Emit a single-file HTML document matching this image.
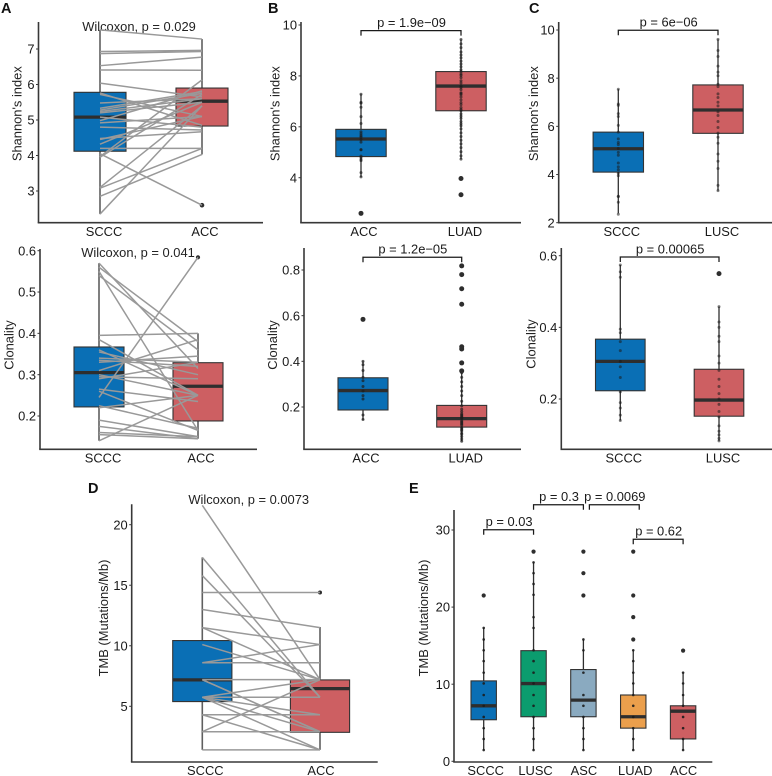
<!DOCTYPE html>
<html lang="en">
<head>
<meta charset="utf-8">
<title>Shannon's index, clonality and TMB comparison panels</title>
<style>
html,body{margin:0;padding:0;background:#fff;}
svg{display:block;font-family:"Liberation Sans",Arial,sans-serif;fill:#1a1a1a;}
.letter{font-size:14.5px;font-weight:bold;fill:#111;}
.title{font-size:12.9px;fill:#222;}
.note{font-size:12.9px;fill:#222;text-anchor:middle;}
</style>
</head>
<body>
<svg id="figure" width="772" height="776" viewBox="0 0 772 776" xmlns="http://www.w3.org/2000/svg">
  <g id="panel-a1">
    <text class="letter" x="1" y="13">A</text>
    <text class="title" text-anchor="middle" transform="translate(21.5,113.7) rotate(-90)">Shannon's index</text>
    <text class="note" x="139" y="31">Wilcoxon, p = 0.029</text>
  </g>
  <g id="panel-a2">
    <text class="title" text-anchor="middle" transform="translate(13.5,345) rotate(-90)">Clonality</text>
    <text class="note" x="138" y="257">Wilcoxon, p = 0.041</text>
  </g>
  <g id="panel-b1">
    <text class="letter" x="268" y="13">B</text>
    <text class="title" text-anchor="middle" transform="translate(279.5,113.7) rotate(-90)">Shannon's index</text>
  </g>
  <g id="panel-b2">
    <text class="title" text-anchor="middle" transform="translate(277,345) rotate(-90)">Clonality</text>
  </g>
  <g id="panel-c1">
    <text class="letter" x="529" y="13">C</text>
    <text class="title" text-anchor="middle" transform="translate(538,113.7) rotate(-90)">Shannon's index</text>
  </g>
  <g id="panel-c2">
    <text class="title" text-anchor="middle" transform="translate(535.5,344) rotate(-90)">Clonality</text>
  </g>
  <g id="panel-d">
    <text class="letter" x="88" y="493">D</text>
    <text class="title" text-anchor="middle" transform="translate(108,618) rotate(-90)">TMB (Mutations/Mb)</text>
    <text class="note" x="248.7" y="504">Wilcoxon, p = 0.0073</text>
  </g>
  <g id="panel-e">
    <text class="letter" x="409" y="493">E</text>
    <text class="title" text-anchor="middle" transform="translate(428,618) rotate(-90)">TMB (Mutations/Mb)</text>
  </g>
</svg>
<script>
/* ---------- Panel A, Shannon's index (paired) ---------- */
const a1Categories = ['SCCC', 'ACC'];
const a1Ticks = ['3', '4', '5', '6', '7'];
const a1BoxSccc = [2.35, 4.12, 5.08, 5.78, 7.54];
const a1BoxAcc = [4.03, 4.83, 5.53, 5.90, 7.28];
const a1OutliersAcc = [2.6];
const a1PairedSccc = [7.54, 6.93, 6.87, 6.53, 6.41, 6.04, 5.76, 5.72, 5.48, 5.33, 5.28, 5.24, 5.20, 5.08, 4.98, 4.92, 4.80, 4.48, 4.45, 4.32, 4.20, 3.97, 4.05, 3.95, 3.10, 3.08, 2.85, 2.35];
const a1PairedAcc = [7.28, 6.96, 6.93, 6.77, 6.40, 5.65, 4.85, 5.10, 5.60, 5.80, 5.75, 5.60, 5.50, 4.80, 5.82, 5.10, 4.72, 4.67, 5.10, 5.50, 4.20, 6.13, 2.60, 5.72, 5.40, 4.20, 4.03, 5.40];

/* ---------- Panel A, Clonality (paired) ---------- */
const a2Categories = ['SCCC', 'ACC'];
const a2Ticks = ['0.2', '0.3', '0.4', '0.5', '0.6'];
const a2BoxSccc = [0.14, 0.222, 0.305, 0.367, 0.57];
const a2BoxAcc = [0.145, 0.188, 0.272, 0.329, 0.40];
const a2OutliersAcc = [0.584];
const a2PairedSccc = [0.57, 0.56, 0.55, 0.54, 0.395, 0.385, 0.36, 0.355, 0.34, 0.335, 0.33, 0.31, 0.30, 0.295, 0.29, 0.265, 0.26, 0.245, 0.225, 0.22, 0.19, 0.175, 0.16, 0.155, 0.14];
const a2PairedAcc = [0.315, 0.38, 0.165, 0.36, 0.40, 0.25, 0.25, 0.30, 0.33, 0.32, 0.345, 0.385, 0.25, 0.29, 0.33, 0.235, 0.165, 0.584, 0.17, 0.25, 0.15, 0.145, 0.15, 0.145, 0.25];

/* ---------- Panel B, Shannon's index ---------- */
const b1Categories = ['ACC', 'LUAD'];
const b1Ticks = ['4', '6', '8', '10'];
const b1BoxAcc = [4.03, 4.83, 5.52, 5.90, 7.28];
const b1BoxLuad = [4.73, 6.63, 7.60, 8.17, 9.43];
const b1OutliersAcc = [2.6];
const b1OutliersLuad = [3.97, 3.33];
const b1DotsAcc = [4.03, 4.20, 4.67, 4.72, 4.80, 4.85, 5.10, 5.10, 5.40, 5.50, 5.60, 5.65, 5.72, 5.80, 6.13, 6.40, 6.77, 6.93, 6.96, 7.28];
const b1DotsLuad = [4.73, 4.86, 5.02, 5.18, 5.33, 5.47, 5.62, 5.76, 5.92, 6.04, 6.12, 6.21, 6.33, 6.42, 6.51, 6.63, 6.68, 6.76, 6.87, 6.95, 7.06, 7.17, 7.26, 7.31, 7.34, 7.46, 7.55, 7.61, 7.72, 7.81, 7.93, 8.02, 8.07, 8.16, 8.24, 8.36, 8.47, 8.58, 8.71, 8.82, 8.94, 9.11, 9.26, 9.43];

/* ---------- Panel B, Clonality ---------- */
const b2Categories = ['ACC', 'LUAD'];
const b2Ticks = ['0.2', '0.4', '0.6', '0.8'];
const b2BoxAcc = [0.143, 0.187, 0.272, 0.328, 0.40];
const b2BoxLuad = [0.05, 0.112, 0.149, 0.207, 0.355];
const b2OutliersAcc = [0.584];
const b2OutliersLuad = [0.818, 0.78, 0.718, 0.65, 0.464, 0.454, 0.393, 0.358];
const b2DotsAcc = [0.145, 0.165, 0.235, 0.25, 0.27, 0.29, 0.315, 0.33, 0.36, 0.385, 0.40];
const b2DotsLuad = [0.05, 0.06, 0.07, 0.08, 0.085, 0.095, 0.10, 0.105, 0.11, 0.12, 0.125, 0.13, 0.135, 0.14, 0.15, 0.155, 0.16, 0.165, 0.17, 0.18, 0.19, 0.205, 0.225, 0.25, 0.27, 0.29, 0.31, 0.33, 0.35];

/* ---------- Panel C, Shannon's index ---------- */
const c1Categories = ['SCCC', 'LUSC'];
const c1Ticks = ['2', '4', '6', '8', '10'];
const c1BoxSccc = [2.39, 4.10, 5.07, 5.76, 7.54];
const c1BoxLusc = [3.33, 5.71, 6.68, 7.72, 9.61];
const c1DotsSccc = [2.35, 2.85, 3.08, 3.10, 3.95, 4.05, 4.20, 4.32, 4.48, 4.80, 4.92, 5.08, 5.24, 5.33, 5.48, 5.76, 6.04, 6.41, 6.53, 6.87, 6.93, 7.54];
const c1DotsLusc = [3.33, 3.55, 4.25, 4.55, 4.85, 5.30, 5.55, 5.72, 5.95, 6.20, 6.45, 6.60, 6.85, 7.00, 7.20, 7.35, 7.65, 7.75, 8.10, 8.25, 8.50, 8.90, 9.15, 9.61];

/* ---------- Panel C, Clonality ---------- */
const c2Categories = ['SCCC', 'LUSC'];
const c2Ticks = ['0.2', '0.4', '0.6'];
const c2BoxSccc = [0.14, 0.223, 0.305, 0.367, 0.574];
const c2BoxLusc = [0.083, 0.152, 0.197, 0.283, 0.458];
const c2OutliersLusc = [0.55];
const c2DotsSccc = [0.14, 0.155, 0.175, 0.19, 0.22, 0.26, 0.29, 0.305, 0.335, 0.36, 0.385, 0.395, 0.54, 0.555, 0.574];
const c2DotsLusc = [0.083, 0.09, 0.10, 0.11, 0.125, 0.15, 0.165, 0.185, 0.20, 0.215, 0.235, 0.255, 0.28, 0.30, 0.32, 0.36, 0.375, 0.40, 0.415, 0.458];

/* ---------- Panel D, TMB (paired) ---------- */
const dCategories = ['SCCC', 'ACC'];
const dTicks = ['5', '10', '15', '20'];
const dBoxSccc = [1.4, 5.39, 7.18, 10.43, 17.3];
const dBoxAcc = [1.4, 2.85, 6.46, 7.18, 11.55];
const dOutliersAcc = [14.4];
const dPairedSccc = [21.6, 17.3, 15.8, 14.4, 13.0, 11.5, 11.5, 10.1, 8.6, 8.6, 7.2, 7.2, 7.2, 5.75, 5.75, 5.75, 5.75, 5.75, 4.3, 4.3, 2.9, 2.9, 1.4];
const dPairedAcc = [7.2, 5.75, 5.75, 14.4, 11.5, 10.1, 7.2, 7.2, 8.6, 10.1, 7.2, 2.9, 2.9, 7.2, 5.75, 4.3, 2.9, 1.4, 4.3, 1.4, 2.9, 7.2, 1.4];

/* ---------- Panel E, TMB ---------- */
const eCategories = ['SCCC', 'LUSC', 'ASC', 'LUAD', 'ACC'];
const eTicks = ['0', '10', '20', '30'];
const eBoxSccc = [1.46, 5.39, 7.2, 10.43, 17.3];
const eBoxLusc = [1.46, 5.78, 10.08, 14.35, 25.8];
const eBoxAsc = [1.46, 5.78, 7.93, 11.9, 15.8];
const eBoxLuad = [1.46, 4.3, 5.78, 8.6, 14.4];
const eBoxAcc = [1.46, 2.9, 6.5, 7.2, 11.55];
const eOutliersSccc = [21.5];
const eOutliersLusc = [27.2];
const eOutliersAsc = [27.2, 24.4, 21.5];
const eOutliersLuad = [27.2, 21.5, 18.7, 15.8];
const eOutliersAcc = [14.35];
const eDotsSccc = [1.46, 2.9, 4.3, 5.75, 7.2, 8.6, 10.1, 11.5, 13.0, 14.4, 15.8, 17.3];
const eDotsLusc = [1.46, 2.9, 4.3, 5.75, 7.2, 8.6, 10.1, 11.5, 13.0, 14.4, 17.3, 18.7, 21.6, 23.0, 24.4, 25.8];
const eDotsAsc = [1.46, 2.9, 4.3, 5.75, 7.2, 8.6, 11.5, 14.4, 15.8];
const eDotsLuad = [1.46, 2.9, 4.3, 5.75, 7.2, 8.6, 10.1, 11.5, 13.0, 14.4];
const eDotsAcc = [1.46, 2.9, 4.3, 5.75, 7.2, 8.6, 10.1, 11.5];

/* ---------- Colours ---------- */
const BLUE = '#0a6fb5', RED = '#cd5f62', GREEN = '#0b9c6e', STEEL = '#8aaac0', ORANGE = '#eb9f4c';
const SVG_NS = 'http://www.w3.org/2000/svg';

function make(parent, tag, attrs, name) {
  const el = document.createElementNS(SVG_NS, tag);
  for (const k in attrs) el.setAttribute(k, attrs[k]);
  
  
  parent.appendChild(el);
  return el;
}

function line(parent, x1, y1, x2, y2, color, width, name) {
  return make(parent, 'line', { x1: x1, y1: y1, x2: x2, y2: y2, stroke: color, 'stroke-width': width }, name);
}

function label(parent, x, y, str, anchor, size, name) {
  const el = make(parent, 'text', { x: x, y: y, 'text-anchor': anchor, 'font-size': size }, name);
  el.textContent = str;
  return el;
}

/* axis functions: linear value scale from two tick anchors, even category scale */
function yScale(frame) {
  const s = frame.yAnchor;
  return function (v) { return s[1] + (v - s[0]) * (s[3] - s[1]) / (s[2] - s[0]); };
}
function xScale(frame) {
  return function (i) { return frame.x0 + i * frame.step; };
}

function drawPanel(frame, series) {
  const g = document.getElementById(frame.id);
  const y = yScale(frame), x = xScale(frame);
  const axisColor = '#383838';

  series.boxes.forEach(function (b, i) {
    const cx = x(i), hw = frame.halfWidth;
    const name = series.categories[i].toLowerCase();
    line(g, cx, y(b[0]), cx, y(b[4]), frame.paired ? '#5f5f5f' : '#2f2f2f', frame.paired ? 1.6 : 1.3, 'whisker-' + name);
    make(g, 'rect', {
      x: cx - hw, y: y(b[3]), width: 2 * hw, height: y(b[1]) - y(b[3]),
      fill: series.colors[i], stroke: '#333', 'stroke-width': 1.1
    }, 'box-' + name);
    line(g, cx - hw, y(b[2]), cx + hw, y(b[2]), '#2e2e2e', 3.3, 'median-' + name);
    (series.dots ? series.dots[i] : []).forEach(function (v) {
      make(g, 'circle', { cx: cx, cy: y(v), r: frame.dotRadius, fill: '#1c1c1c', 'fill-opacity': frame.dotOpacity }, 'data-point-' + name);
    });
    (series.outliers ? series.outliers[i] : []).forEach(function (v) {
      make(g, 'circle', { cx: cx, cy: y(v), r: frame.outlierRadius, fill: '#2e2e2e' }, 'outlier-' + name);
    });
  });

  if (series.left) {
    series.left.forEach(function (v, k) {
      line(g, x(0), y(v), x(1), y(series.right[k]), '#999999', 1.5, 'paired-line');
    });
  }

  line(g, frame.left, frame.top, frame.left, frame.bottom, axisColor, 1.6, 'y-axis');
  line(g, frame.left - 0.8, frame.bottom, frame.right, frame.bottom, axisColor, 1.6, 'x-axis');

  series.ticks.forEach(function (t) {
    const py = y(Number(t));
    line(g, frame.left - 2.5, py, frame.left, py, axisColor, 1, 'y-tick');
    label(g, frame.left - 4, py + 4.6, t, 'end', 12.9, 'y-tick-label');
  });

  series.categories.forEach(function (c, i) {
    label(g, x(i) + frame.labelShift[i], frame.labelY, c, 'middle', 12.9, 'x-tick-label');
  });

  (series.brackets || []).forEach(function (b) {
    const x1 = x(b[0]), x2 = x(b[1]), py = y(b[2]);
    make(g, 'path', {
      d: 'M' + x1 + ' ' + (py + 5) + 'V' + py + 'H' + x2 + 'V' + (py + 5),
      fill: 'none', stroke: '#1a1a1a', 'stroke-width': 1.25
    }, 'significance-bracket');
    label(g, (x1 + x2) / 2 + 0.5, py - 3.6, b[3], 'middle', 12.9, 'p-value-label');
  });
}

drawPanel(
  { id: 'panel-a1', left: 38.5, top: 22, bottom: 222.7, right: 263, yAnchor: [3, 191, 7, 49], x0: 100, step: 102, halfWidth: 26, labelShift: [4, 3], labelY: 236, paired: true, outlierRadius: 2.3 },
  { categories: a1Categories, ticks: a1Ticks, boxes: [a1BoxSccc, a1BoxAcc], colors: [BLUE, RED], outliers: [[], a1OutliersAcc], left: a1PairedSccc, right: a1PairedAcc }
);
drawPanel(
  { id: 'panel-a2', left: 40, top: 249, bottom: 449.3, right: 257, yAnchor: [0.2, 416, 0.6, 250.7], x0: 99, step: 99, halfWidth: 25, labelShift: [4, 3], labelY: 462.7, paired: true, outlierRadius: 2.1 },
  { categories: a2Categories, ticks: a2Ticks, boxes: [a2BoxSccc, a2BoxAcc], colors: [BLUE, RED], outliers: [[], a2OutliersAcc], left: a2PairedSccc, right: a2PairedAcc }
);
drawPanel(
  { id: 'panel-b1', left: 301, top: 22, bottom: 222.7, right: 521, yAnchor: [4, 177.7, 10, 25], x0: 361, step: 100, halfWidth: 25.2, labelShift: [3, 4], labelY: 236, outlierRadius: 2.5, dotRadius: 1.5, dotOpacity: 0.65 },
  { categories: b1Categories, ticks: b1Ticks, boxes: [b1BoxAcc, b1BoxLuad], colors: [BLUE, RED], outliers: [b1OutliersAcc, b1OutliersLuad], dots: [b1DotsAcc, b1DotsLuad], brackets: [[0, 1, 9.78, 'p = 1.9e\u221209']] }
);
drawPanel(
  { id: 'panel-b2', left: 304, top: 248, bottom: 449.3, right: 521, yAnchor: [0.2, 407, 0.8, 270], x0: 363, step: 98.7, halfWidth: 25, labelShift: [3, 4], labelY: 462.7, outlierRadius: 2.5, dotRadius: 1.5, dotOpacity: 0.7 },
  { categories: b2Categories, ticks: b2Ticks, boxes: [b2BoxAcc, b2BoxLuad], colors: [BLUE, RED], outliers: [b2OutliersAcc, b2OutliersLuad], dots: [b2DotsAcc, b2DotsLuad], brackets: [[0, 1, 0.8556, 'p = 1.2e\u221205']] }
);
drawPanel(
  { id: 'panel-c1', left: 558.7, top: 22, bottom: 222.7, right: 772, yAnchor: [2, 222.7, 10, 30], x0: 618.3, step: 99.7, halfWidth: 25.2, labelShift: [3.5, 4], labelY: 236, outlierRadius: 2.4, dotRadius: 1.5, dotOpacity: 0.55 },
  { categories: c1Categories, ticks: c1Ticks, boxes: [c1BoxSccc, c1BoxLusc], colors: [BLUE, RED], dots: [c1DotsSccc, c1DotsLusc], brackets: [[0, 1, 9.99, 'p = 6e\u221206']] }
);
drawPanel(
  { id: 'panel-c2', left: 561.3, top: 248, bottom: 449.3, right: 772, yAnchor: [0.2, 399, 0.6, 255.7], x0: 620.3, step: 98.7, halfWidth: 24.8, labelShift: [3.5, 4], labelY: 462.7, outlierRadius: 2.5, dotRadius: 1.5, dotOpacity: 0.55 },
  { categories: c2Categories, ticks: c2Ticks, boxes: [c2BoxSccc, c2BoxLusc], colors: [BLUE, RED], outliers: [[], c2OutliersLusc], dots: [c2DotsSccc, c2DotsLusc], brackets: [[0, 1, 0.5964, 'p = 0.00065']] }
);
drawPanel(
  { id: 'panel-d', left: 131.7, top: 504.3, bottom: 762, right: 377.7, yAnchor: [5, 706.3, 20, 524.7], x0: 202.3, step: 117.7, halfWidth: 29.6, labelShift: [3, 1], labelY: 775, paired: true, outlierRadius: 2 },
  { categories: dCategories, ticks: dTicks, boxes: [dBoxSccc, dBoxAcc], colors: [BLUE, RED], outliers: [[], dOutliersAcc], left: dPairedSccc, right: dPairedAcc }
);
drawPanel(
  { id: 'panel-e', left: 454, top: 510, bottom: 762, right: 712.3, yAnchor: [0, 761.3, 30, 530], x0: 483.7, step: 49.85, halfWidth: 12.7, labelShift: [2, 2, 0.5, 2, 0.5], labelY: 775, outlierRadius: 2.1, dotRadius: 1.3, dotOpacity: 0.9 },
  { categories: eCategories, ticks: eTicks, boxes: [eBoxSccc, eBoxLusc, eBoxAsc, eBoxLuad, eBoxAcc], colors: [BLUE, GREEN, STEEL, ORANGE, RED],
    outliers: [eOutliersSccc, eOutliersLusc, eOutliersAsc, eOutliersLuad, eOutliersAcc],
    dots: [eDotsSccc, eDotsLusc, eDotsAsc, eDotsLuad, eDotsAcc],
    brackets: [[0, 1, 30.04, 'p = 0.03'], [1, 2, 33.27, 'p = 0.3'], [2.12, 3.12, 33.27, 'p = 0.0069'], [3, 4, 28.8, 'p = 0.62']] }
);
</script>
</body>
</html>
